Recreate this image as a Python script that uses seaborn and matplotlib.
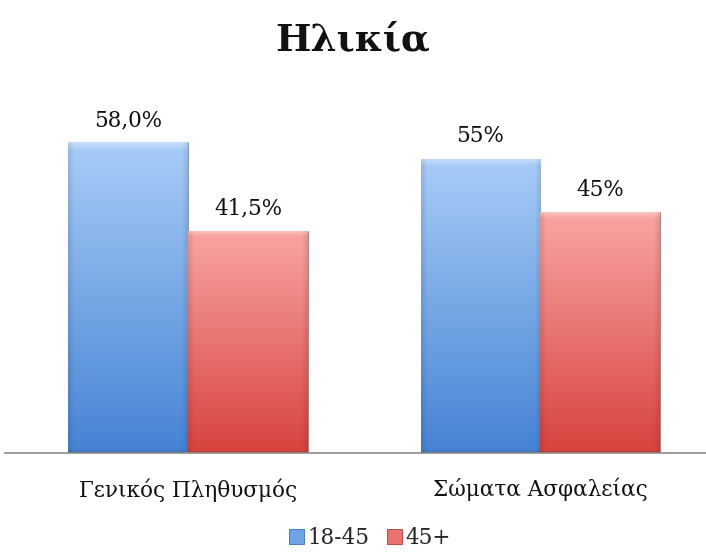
import numpy as np
import pandas as pd
import matplotlib
matplotlib.use('Agg')
import matplotlib.pyplot as plt
import matplotlib.colors as mcolors
from matplotlib.patches import Patch
import seaborn as sns

# data
categories = ['Γενικός Πληθυσμός', 'Σώματα Ασφαλείας']
groups = ['18-45', '45+']
young = [58.0, 55.0]
older = [41.5, 45.0]
young_labels = ['58,0%', '55%']
older_labels = ['41,5%', '45%']

# gradient colours (top, bottom) per series
blue_top, blue_bot = '#A9CDF8', '#4683D4'
red_top, red_bot = '#F9A6A4', '#D8423E'

df = pd.DataFrame({
    'category': categories * 2,
    'group': [groups[0]] * 2 + [groups[1]] * 2,
    'value': young + older,
})

sns.set_theme(style='white')
plt.rcParams['font.family'] = ['DejaVu Serif']

fig = plt.figure(figsize=(7.06, 5.56), dpi=100)
ax = fig.add_axes([5 / 706, 103 / 556, 701 / 706, 348 / 556])

sns.barplot(data=df, x='category', y='value', hue='group', width=0.68,
            palette=[blue_bot, red_bot], ax=ax, legend=False, saturation=1)


def gradient_fill(patch, top, bot):
    x0, y0 = patch.get_x(), patch.get_y()
    w, h = patch.get_width(), patch.get_height()
    t = np.array(mcolors.to_rgb(top))
    b = np.array(mcolors.to_rgb(bot))
    ny, nx = 300, 80
    v = np.linspace(0, 1, ny)[:, None, None]
    img = b + (t - b) * v
    img = np.repeat(img, nx, axis=1)
    # soft darker bevel on the sides
    xs = np.linspace(0, 1, nx)
    edge = np.minimum(xs, 1 - xs)
    side = 0.90 + 0.10 * np.clip(edge / 0.05, 0, 1)
    img = img * side[None, :, None]
    # lighter bevel at the top, slightly darker at the bottom
    ys = np.linspace(0, 1, ny)
    top_k = np.clip((ys - 0.975) / 0.025, 0, 1)[:, None, None] * 0.35
    img = img * (1 - top_k) + top_k
    bot_k = np.clip((0.012 - ys) / 0.012, 0, 1)[:, None, None] * 0.12
    img = img * (1 - bot_k)
    im = ax.imshow(img, origin='lower', extent=[x0, x0 + w, y0, y0 + h],
                   aspect='auto', zorder=patch.get_zorder() + 0.1,
                   interpolation='bilinear')
    im.set_clip_path(patch)
    patch.set_edgecolor((0, 0, 0, 0.2))
    patch.set_linewidth(0.8)


shades = [(blue_top, blue_bot), (red_top, red_bot)]
for cont, (top, bot) in zip(ax.containers, shades):
    for p in cont.patches:
        gradient_fill(p, top, bot)

ax.set_xlim(-0.52, 1.47)
ax.set_ylim(0, 65)

for cont, labs in zip(ax.containers, [young_labels, older_labels]):
    ax.bar_label(cont, labels=labs, padding=8, fontsize=15.5, color='#111111')

for s in ['top', 'right', 'left']:
    ax.spines[s].set_visible(False)
ax.spines['bottom'].set_color('#8c8c8c')
ax.spines['bottom'].set_linewidth(1.2)
ax.set_yticks([])
ax.set_xlabel('')
ax.set_ylabel('')
ax.tick_params(axis='x', length=0, pad=18, labelsize=15.5, colors='#111111')

fig.text(0.5, 1 - 41 / 556, 'Ηλικία', ha='center', va='center',
         fontsize=27, fontweight='bold', color='#111111')

handles = [Patch(facecolor='#6FA3E6', edgecolor='#3A6FB5', linewidth=0.6),
           Patch(facecolor='#E87472', edgecolor='#B03A38', linewidth=0.6)]
fig.legend(handles, groups, loc='center', bbox_to_anchor=(370 / 706, 1 - 538 / 556),
           ncol=2, frameon=False, fontsize=15.5, handlelength=0.7,
           handleheight=0.7, handletextpad=0.15, columnspacing=0.8)

fig.savefig('out.png', dpi=100)
